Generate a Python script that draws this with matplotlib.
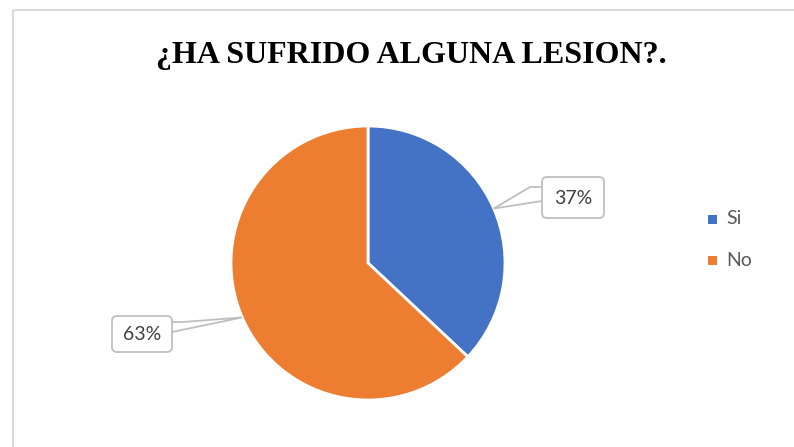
import numpy as np
import matplotlib
matplotlib.use("Agg")
import matplotlib.pyplot as plt
from matplotlib.patches import FancyBboxPatch, Rectangle

title = "¿HA SUFRIDO ALGUNA LESION?."
categories = ["Si", "No"]
values = [37, 63]
colors = ["#4472C4", "#ED7D31"]

W, H = 794, 447
fig = plt.figure(figsize=(W / 100, H / 100), dpi=100)
ax = fig.add_axes([0, 0, 1, 1])

cx, cy, r = 368, 263, 137
# y axis is inverted below, so start at -90 and go counterclockwise in data
# to get a clockwise pie starting at the top on screen
wedges, _ = ax.pie(values, colors=colors, startangle=-90, counterclock=True,
                   center=(cx, cy), radius=r, frame=True,
                   wedgeprops=dict(edgecolor="white", linewidth=2))
ax.set_xlim(0, W)
ax.set_ylim(H, 0)
ax.set_aspect("equal")
ax.axis("off")

# chart frame
ax.add_patch(Rectangle((13, 10), W + 20, H + 20, fill=False, edgecolor="#d9d9d9", linewidth=1.5))

ax.text(411, 56, title, ha="center", va="center", fontsize=23, fontweight="bold",
        family="Liberation Serif", color="black")

# callout boxes: (box left, top, right, bottom), side the pointer leaves from
boxes = [(542, 177, 604, 218, "left"), (112, 316, 172, 352, "right")]
for w, v, (x0, y0, x1, y1, side) in zip(wedges, values, boxes):
    ang = np.deg2rad((w.theta1 + w.theta2) / 2)
    tx = cx + r * np.cos(ang)
    ty = cy + r * np.sin(ang)
    box = FancyBboxPatch((x0, y0), x1 - x0, y1 - y0,
                         boxstyle="round,pad=0,rounding_size=5",
                         facecolor="white", edgecolor="#bfbfbf", linewidth=1.3, zorder=4)
    ax.add_patch(box)
    if side == "left":
        ax.plot([x0, x0 - 12, tx, x0], [y0 + 10, y0 + 10, ty, y0 + 24],
                color="#bfbfbf", linewidth=1.3, zorder=5, solid_joinstyle="miter")
    else:
        ax.plot([x1, x1 + 11, tx, x1], [y0 + 6, y0 + 6, ty, y0 + 16],
                color="#bfbfbf", linewidth=1.3, zorder=5, solid_joinstyle="miter")
    ax.text((x0 + x1) / 2, (y0 + y1) / 2 + 1, f"{v}%", ha="center", va="center",
            fontsize=14, family="Lato", color="#404040", zorder=6)

# legend
leg_y = [219, 260]
for cat, col, y in zip(categories, colors, leg_y):
    ax.add_patch(Rectangle((708, y - 4.5), 9, 9, facecolor=col, edgecolor="none"))
    ax.text(726, y, cat, ha="left", va="center", fontsize=14, family="Lato", color="#595959")

fig.savefig("out.png", dpi=100)
